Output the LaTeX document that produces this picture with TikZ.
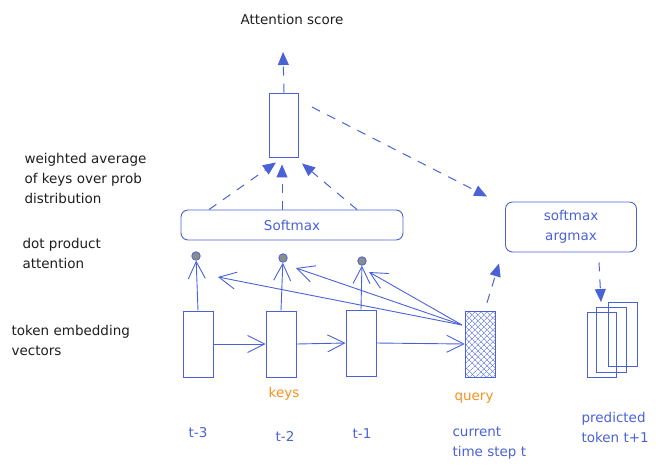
\documentclass[tikz,border=0pt]{standalone}
\usepackage{fontspec}
\setmainfont{DejaVu Sans}
\usetikzlibrary{%
  positioning,
  calc,
  arrows.meta,
  patterns.meta,
}
\definecolor{inkblue}{HTML}{4A62D6}
\definecolor{inkorange}{HTML}{F5901E}
\definecolor{inkblack}{HTML}{1E1E1E}

\begin{document}
\begin{tikzpicture}[%
           x=1pt, y=-1pt,
           font=\fontsize{13.5}{20}\selectfont,
           token/.style={
             % The shape:
             rectangle,
             % The size:
             minimum width=30pt,
             minimum height=66pt,
             inner sep=0pt,
             % The border:
             line width=0.9pt,
             draw=inkblue,
           },
           dotnode/.style={
             circle,
             minimum size=8.5pt,
             inner sep=0pt,
             fill=black!45,
             draw=inkblue,
             thick,
           },
           softbox/.style={
             rectangle,
             rounded corners=7pt,
             line width=0.9pt,
             draw=inkblue,
             text=inkblue,
             align=center,
           },
           note/.style={
             text=inkblack,
             align=left,
             anchor=west,
           },
           bluetext/.style={
             text=inkblue,
             align=left,
           },
           orangetext/.style={
             text=inkorange,
           },
           flow/.style={
             -{Straight Barb[length=17pt,width=17pt]},
             line width=0.9pt,
             color=inkblue,
           },
           dashflow/.style={
             -{Triangle[length=13pt,width=11pt]},
             dash pattern=on 9pt off 8pt,
             line width=1pt,
             color=inkblue,
           },
           hatch/.style={
             pattern={Lines[angle=45, distance=4pt, line width=0.6pt]},
             pattern color=inkblue,
             postaction={pattern={Lines[angle=-45, distance=4pt, line width=0.6pt]}, pattern color=inkblue},
           }]
         \useasboundingbox (0,0) rectangle (663,474);

         % token embedding vectors and the query
         \node[token] (tok1) at (198,344) {};
         \node[token] (tok2) at (281,344) {};
         \node[token] (tok3) at (361,343) {};
         \node[token, hatch] (query) at (480,344) {};

         % dot product attention
         \node[dotnode] (dot1) at (196,256) {};
         \node[dotnode] (dot2) at (283,258) {};
         \node[dotnode] (dot3) at (362,261) {};

         % weighted average and softmax boxes
         \node[token, minimum width=29pt, minimum height=64pt] (out) at (284,125) {};
         \node[softbox, minimum width=222pt, minimum height=30pt] (softmax) at (292,225) {Softmax};
         \node[softbox, minimum width=131pt, minimum height=50pt] (argmax) at (571,227) {softmax\\argmax};

         % predicted token stack
         \node[token, minimum width=29pt, minimum height=65pt] (pred1) at (602,345) {};
         \node[token, minimum width=30pt, minimum height=65pt] (pred2) at (611,340) {};
         \node[token, minimum width=29pt, minimum height=64pt] (pred3) at (623,334) {};

         % texts
         \node[text=inkblack] (score) at (292,19) {Attention score};
         \node[note] (lblweighted) at (21,178) {weighted average\\of keys over prob\\distribution};
         \node[note] (lbldot) at (19,253) {dot product\\attention};
         \node[note] (lbltoken) at (8,340) {token embedding\\vectors};
         \node[orangetext] (lblkeys) at (284,394) {keys};
         \node[orangetext] (lblquery) at (474,398) {query};
         \node[bluetext] (lbltm3) at (198,433) {t-3};
         \node[bluetext] (lbltm2) at (285,436) {t-2};
         \node[bluetext] (lbltm1) at (362,434) {t-1};
         \node[bluetext, anchor=west] (lblnow) at (449,443) {current\\time step t};
         \node[bluetext, anchor=west] (lblpred) at (578,427) {predicted\\token t+1};

         % free ends
         \coordinate (scoretip) at (283,52);
         \coordinate (hit1) at (218,277);
         \coordinate (hit2) at (296,268);
         \coordinate (hit3) at (369,272);
         \coordinate (qfrom) at (462,325);

         % key chain
         \draw[flow] (tok1.east) -- (tok2.west);
         \draw[flow] (tok2.east) -- (tok3.west);
         \draw[flow] (tok3.east) -- (query.west);

         \draw[flow] (tok1.north) -- (dot1);
         \draw[flow] (tok2.north) -- (dot2);
         \draw[flow] (tok3.north) -- (dot3);

         \draw[flow] (qfrom) -- (hit1);
         \draw[flow] (qfrom) -- (hit2);
         \draw[flow] (qfrom) -- (hit3);

         % dashed flow to the score and the prediction
         \draw[dashflow] (out.north) -- (scoretip);
         \draw[dashflow] ([xshift=-83pt]softmax.north) -- ([xshift=-8pt, yshift=-5pt]out.south);
         \draw[dashflow] ([xshift=-10pt]softmax.north) -- ([xshift=-2pt, yshift=-7pt]out.south);
         \draw[dashflow] ([xshift=65pt]softmax.north) -- ([xshift=18pt, yshift=-6pt]out.south);
         \draw[dashflow] ([xshift=13pt, yshift=18pt]out.east) -- ([xshift=-18pt, yshift=5pt]argmax.north west);
         \draw[dashflow] ([xshift=7pt, yshift=8pt]query.north) -- ([xshift=-6pt, yshift=-11pt]argmax.south west);
         \draw[dashflow] ([xshift=28pt, yshift=-10pt]argmax.south) -- ([xshift=-10pt, yshift=5pt]pred2.north);
       \end{tikzpicture}
\end{document}
